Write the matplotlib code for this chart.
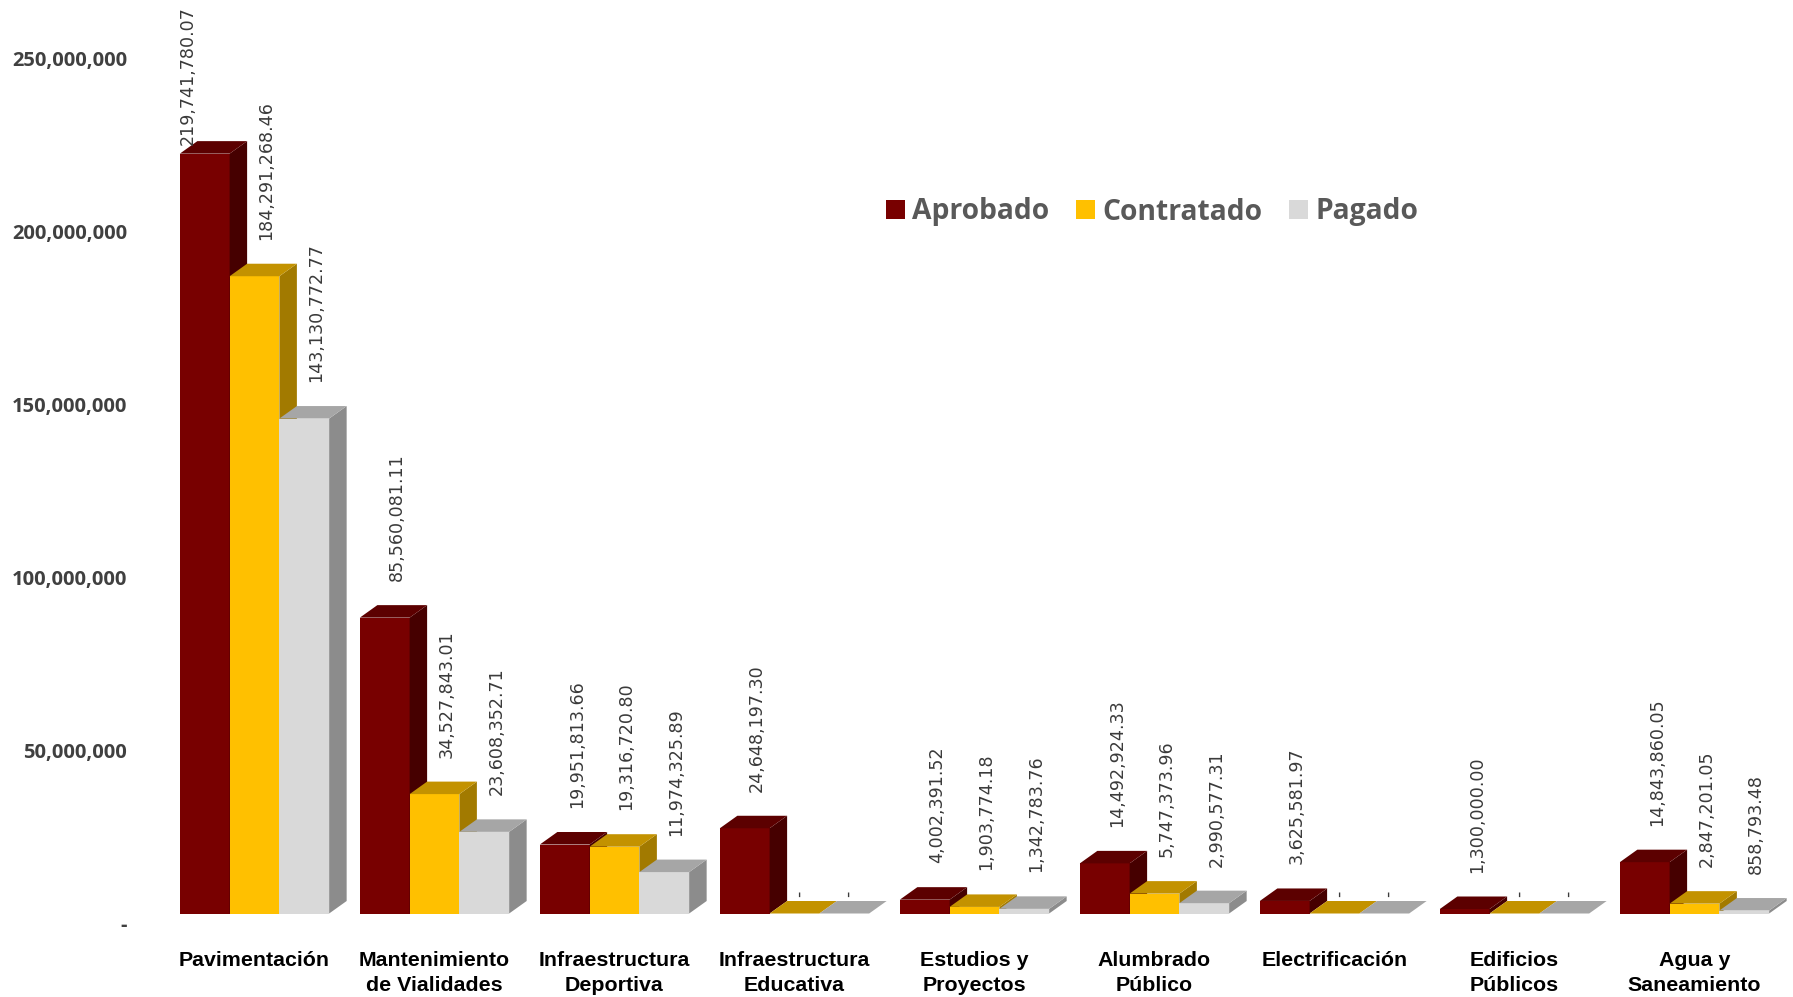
import matplotlib
matplotlib.use('Agg')
import matplotlib.pyplot as plt
from matplotlib.patches import Polygon, Patch
from matplotlib.font_manager import FontProperties


# datos del gráfico
categorias = ['Pavimentación', 'Mantenimiento\nde Vialidades',
              'Infraestructura\nDeportiva', 'Infraestructura\nEducativa',
              'Estudios y\nProyectos', 'Alumbrado\nPúblico',
              'Electrificación', 'Edificios\nPúblicos', 'Agua y\nSaneamiento']
aprobado = [219741780.07, 85560081.11, 19951813.66, 24648197.30,
            4002391.52, 14492924.33, 3625581.97, 1300000.00, 14843860.05]
contratado = [184291268.46, 34527843.01, 19316720.80, 0,
              1903774.18, 5747373.96, 0, 0, 2847201.05]
pagado = [143130772.77, 23608352.71, 11974325.89, 0,
          1342783.76, 2990577.31, 0, 0, 858793.48]
series = ['Aprobado', 'Contratado', 'Pagado']
y_ticks = [0, 50000000, 100000000, 150000000, 200000000, 250000000]

# colores: frente, tapa, lado
colores = {
    'Aprobado': ('#780000', '#5c0000', '#460000'),
    'Contratado': ('#ffc000', '#c39200', '#a27a00'),
    'Pagado': ('#d9d9d9', '#a6a6a6', '#8c8c8c'),
}

# geometria (pixeles)
W, H = 1793, 997
base_px = 913.5          # y del cero (frente) desde arriba
px_y = 3.458e-6          # pixeles por unidad de valor
px_x = 180.0             # pixeles por categoria
x0_px = 254.5            # centro del primer grupo
ancho = 0.2765           # ancho de barra en unidades de categoria
prof_x, prof_y = 17.5, 12.5

fig = plt.figure(figsize=(W / 100, H / 100), dpi=100)
top_px = 8
ax = fig.add_axes([0, (H - base_px) / H, 1, (base_px - top_px) / H])
ax.set_xlim(-x0_px / px_x, (W - x0_px) / px_x)
ax.set_ylim(0, (base_px - top_px) / px_y)
for s in ax.spines.values():
    s.set_visible(False)
ax.set_yticks([])

dxd = prof_x / px_x
dyd = prof_y / px_y

valores = [aprobado, contratado, pagado]
etiquetas = []
z = 2
for i in range(len(categorias)):
    for j, nombre in enumerate(series):
        v = valores[j][i]
        frente, tapa, lado = colores[nombre]
        left = i + (j - 1.5) * ancho
        ax.bar(left, v, ancho, align='edge', color=frente, linewidth=0,
               zorder=z)
        ax.add_patch(Polygon([(left + ancho, 0), (left + ancho + dxd, dyd),
                              (left + ancho + dxd, v + dyd), (left + ancho, v)],
                             closed=True, facecolor=lado, linewidth=0,
                             zorder=z))
        ax.add_patch(Polygon([(left, v), (left + ancho, v),
                              (left + ancho + dxd, v + dyd), (left + dxd, v + dyd)],
                             closed=True, facecolor=tapa, linewidth=0,
                             zorder=z))
        z += 1
        centro = left + ancho / 2
        if v > 0:
            txt = f'{v:,.2f}'
            off = (12, prof_y + 24)
        else:
            txt = '-'
            off = (4, prof_y + 4)
        t = ax.annotate(txt, xy=(centro, v), xytext=off,
                        textcoords='offset pixels', rotation=90,
                        ha='center', va='bottom', fontsize=12.6,
                        family='DejaVu Sans', color='#3a3a3a', zorder=50,
                        annotation_clip=False)
        etiquetas.append(t)

# ejes
ax.set_xticks(range(len(categorias)), categorias)
ax.tick_params(axis='x', length=0, pad=27)
for lbl in ax.get_xticklabels():
    lbl.set_fontfamily('Liberation Sans')
    lbl.set_fontweight('bold')
    lbl.set_fontsize(15.4)
    lbl.set_color('black')
    lbl.set_linespacing(1.42)

for v in y_ticks:
    txt = f'{v:,.0f}' if v else '-'
    ax.annotate(txt, xy=(127 / W, v), xycoords=ax.get_yaxis_transform(),
                xytext=(0, -12), textcoords='offset pixels', ha='right',
                va='center', fontsize=14.5, family='Open Sans',
                fontweight='bold', color='#404040', annotation_clip=False)

# leyenda
handles = [Patch(facecolor=colores[s][0], linewidth=0) for s in series]
fig.legend(handles, series, loc='center left',
           bbox_to_anchor=(886 / W, 1 - 212 / H), ncol=3, frameon=False,
           prop=FontProperties(family='Open Sans', weight='bold', size=20.3),
           labelcolor='#595959', handlelength=0.68, handleheight=0.68,
           handletextpad=0.25, columnspacing=0.95, borderpad=0,
           borderaxespad=0)

# etiquetas que salen del area se bajan
fig.canvas.draw()
renderer = fig.canvas.get_renderer()
limite = fig.bbox.height - 6
for t in etiquetas:
    bb = t.get_window_extent(renderer)
    if bb.y1 > limite:
        xo, yo = t.xyann
        t.xyann = (xo - 29, yo - (bb.y1 - limite))

fig.savefig('out.png', dpi=100)
